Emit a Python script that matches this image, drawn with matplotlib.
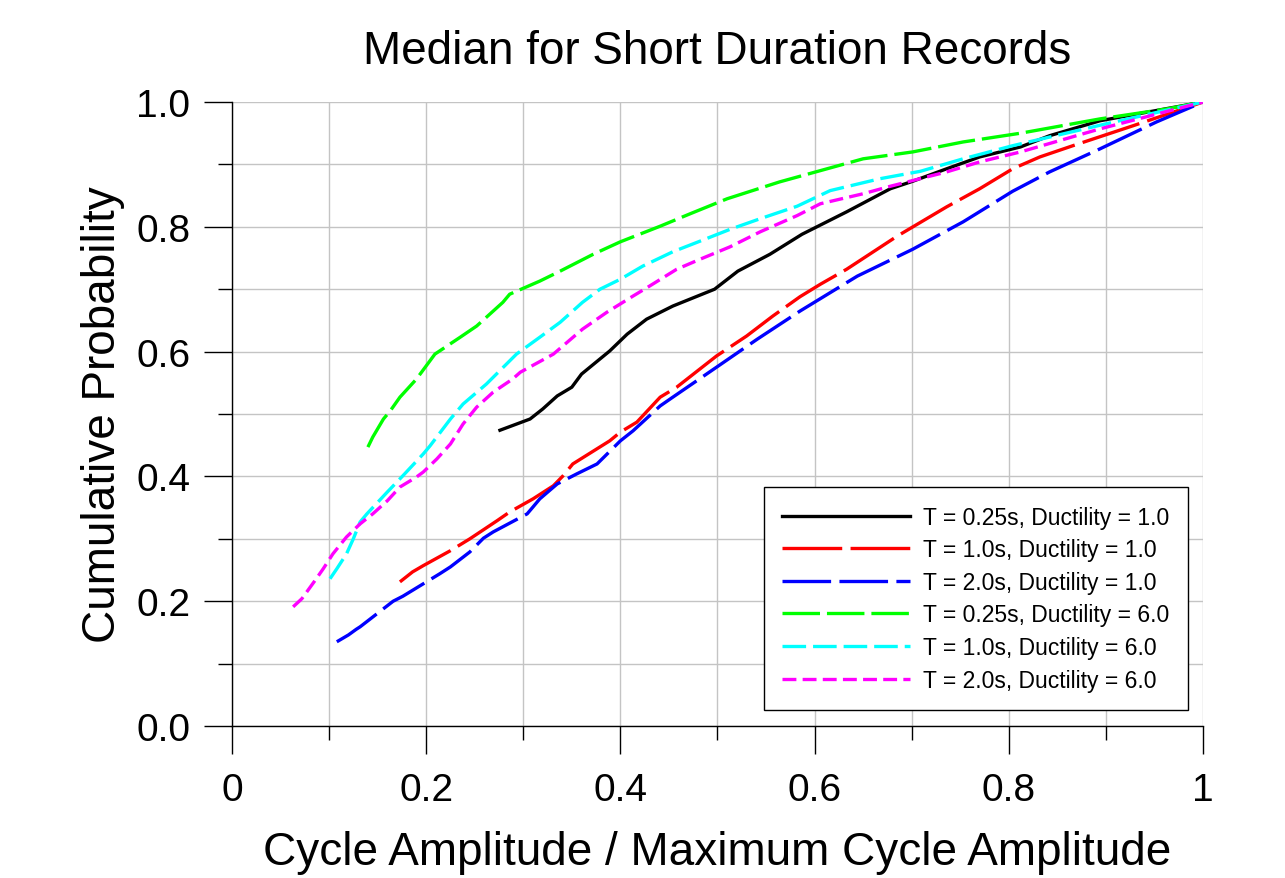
import matplotlib
matplotlib.use("Agg")
from matplotlib import pyplot as plt
from matplotlib.ticker import FixedLocator
import numpy as np

plt.rcParams['font.family'] = ['Liberation Sans', 'DejaVu Sans']
plt.rcParams['lines.scale_dashes'] = False

# T = 0.25s, Ductility = 1.0
x_t025_d1 = [0.276, 0.307, 0.320, 0.335, 0.350, 0.360, 0.389, 0.407, 0.427, 0.454, 0.497, 0.521,
             0.554, 0.587, 0.633, 0.678, 0.701, 0.736, 0.770, 0.812, 0.842, 0.894, 1.0]
y_t025_d1 = [0.474, 0.492, 0.508, 0.529, 0.543, 0.564, 0.601, 0.628, 0.652, 0.673, 0.700, 0.729,
             0.756, 0.788, 0.824, 0.861, 0.873, 0.893, 0.912, 0.928, 0.946, 0.970, 1.0]

# T = 1.0s, Ductility = 1.0
x_t10_d1 = [0.173, 0.186, 0.197, 0.225, 0.245, 0.273, 0.286, 0.310, 0.331, 0.341, 0.351, 0.389,
            0.400, 0.417, 0.441, 0.458, 0.499, 0.530, 0.557, 0.585, 0.606, 0.633, 0.685, 0.736,
            0.770, 0.804, 0.832, 0.866, 0.928, 1.0]
y_t10_d1 = [0.231, 0.247, 0.257, 0.281, 0.300, 0.329, 0.343, 0.364, 0.385, 0.401, 0.420, 0.457,
            0.471, 0.487, 0.527, 0.543, 0.593, 0.625, 0.657, 0.688, 0.708, 0.732, 0.785, 0.832,
            0.861, 0.893, 0.912, 0.930, 0.962, 1.0]

# T = 2.0s, Ductility = 1.0
x_t20_d1 = [0.108, 0.120, 0.128, 0.132, 0.166, 0.176, 0.214, 0.225, 0.245, 0.259, 0.269, 0.304,
            0.310, 0.317, 0.335, 0.355, 0.376, 0.400, 0.413, 0.441, 0.454, 0.499, 0.541, 0.585,
            0.644, 0.701, 0.753, 0.804, 0.842, 0.894, 0.952, 1.0]
y_t20_d1 = [0.135, 0.146, 0.155, 0.159, 0.200, 0.208, 0.244, 0.255, 0.279, 0.301, 0.311, 0.340,
            0.351, 0.364, 0.388, 0.404, 0.420, 0.457, 0.473, 0.513, 0.527, 0.575, 0.620, 0.665,
            0.721, 0.764, 0.808, 0.857, 0.888, 0.925, 0.968, 1.0]

# T = 0.25s, Ductility = 6.0
x_t025_d6 = [0.140, 0.145, 0.156, 0.163, 0.173, 0.190, 0.209, 0.235, 0.252, 0.279, 0.286, 0.317,
             0.338, 0.372, 0.400, 0.441, 0.472, 0.510, 0.564, 0.650, 0.701, 0.753, 0.812, 0.894,
             0.963, 1.0]
y_t025_d6 = [0.447, 0.463, 0.492, 0.505, 0.527, 0.556, 0.596, 0.623, 0.641, 0.679, 0.692, 0.713,
             0.729, 0.756, 0.776, 0.801, 0.821, 0.845, 0.872, 0.909, 0.920, 0.936, 0.950, 0.973,
             0.989, 1.0]

# T = 1.0s, Ductility = 6.0
x_t10_d6 = [0.101, 0.108, 0.118, 0.125, 0.132, 0.139, 0.160, 0.176, 0.197, 0.204, 0.225, 0.238,
            0.262, 0.293, 0.317, 0.338, 0.361, 0.379, 0.400, 0.423, 0.454, 0.482, 0.513, 0.544,
            0.582, 0.616, 0.667, 0.709, 0.753, 0.804, 0.900, 1.0]
y_t10_d6 = [0.236, 0.252, 0.276, 0.300, 0.327, 0.340, 0.375, 0.401, 0.436, 0.449, 0.492, 0.516,
            0.548, 0.596, 0.623, 0.647, 0.679, 0.700, 0.716, 0.737, 0.760, 0.777, 0.796, 0.813,
            0.833, 0.858, 0.877, 0.889, 0.909, 0.930, 0.965, 1.0]

# T = 2.0s, Ductility = 6.0
x_t20_d6 = [0.063, 0.072, 0.085, 0.094, 0.104, 0.118, 0.132, 0.145, 0.160, 0.173, 0.190, 0.197,
            0.211, 0.225, 0.238, 0.252, 0.269, 0.289, 0.297, 0.331, 0.361, 0.386, 0.413, 0.430,
            0.458, 0.482, 0.513, 0.544, 0.582, 0.606, 0.650, 0.678, 0.736, 0.770, 0.812, 0.894,
            1.0]
y_t20_d6 = [0.191, 0.204, 0.232, 0.252, 0.276, 0.303, 0.324, 0.340, 0.361, 0.383, 0.399, 0.407,
            0.428, 0.452, 0.484, 0.511, 0.535, 0.556, 0.567, 0.596, 0.636, 0.663, 0.689, 0.705,
            0.732, 0.748, 0.768, 0.792, 0.818, 0.837, 0.853, 0.865, 0.888, 0.904, 0.920, 0.957,
            1.0]

x_major = [0, 0.2, 0.4, 0.6, 0.8, 1.0]
x_labels = ['0', '0.2', '0.4', '0.6', '0.8', '1']
y_major = [0, 0.2, 0.4, 0.6, 0.8, 1.0]
y_labels = ['0.0', '0.2', '0.4', '0.6', '0.8', '1.0']
minor = [0.1, 0.3, 0.5, 0.7, 0.9]

fig = plt.figure(figsize=(12.85, 8.79), dpi=100)
ax = fig.add_axes([0.1805, 0.1729, 0.7557, 0.7099])

lw = 2.4
ax.plot(x_t025_d1, y_t025_d1, color='black', lw=lw, label='T = 0.25s, Ductility = 1.0')
ax.plot(x_t10_d1, y_t10_d1, color='#ff0000', lw=lw, dashes=(43, 6), label='T = 1.0s, Ductility = 1.0')
ax.plot(x_t20_d1, y_t20_d1, color='#0000ff', lw=lw, dashes=(35, 6), label='T = 2.0s, Ductility = 1.0')
ax.plot(x_t025_d6, y_t025_d6, color='#00ff00', lw=lw, dashes=(27, 5), label='T = 0.25s, Ductility = 6.0')
ax.plot(x_t10_d6, y_t10_d6, color='#00ffff', lw=lw, dashes=(17, 5), label='T = 1.0s, Ductility = 6.0')
ax.plot(x_t20_d6, y_t20_d6, color='#ff00ff', lw=lw, dashes=(10, 4.5), label='T = 2.0s, Ductility = 6.0')

ax.set_xlim(0, 1)
ax.set_ylim(0, 1)
ax.xaxis.set_major_locator(FixedLocator(x_major))
ax.xaxis.set_minor_locator(FixedLocator(minor))
ax.yaxis.set_major_locator(FixedLocator(y_major))
ax.yaxis.set_minor_locator(FixedLocator(minor))
ax.set_xticklabels(x_labels)
ax.set_yticklabels(y_labels)

ax.grid(True, which='both', color='#c4c4c4', lw=1.0)
ax.set_axisbelow(True)
for s in ['top', 'right']:
    ax.spines[s].set_visible(False)
ax.spines['left'].set_linewidth(1.0)
ax.spines['bottom'].set_linewidth(1.0)
ax.tick_params(which='major', length=20, width=1.0, labelsize=28)
ax.tick_params(which='minor', length=10, width=1.0)
ax.tick_params(axis='x', which='major', pad=13)
ax.tick_params(axis='y', which='major', pad=10)

ax.set_title('Median for Short Duration Records', fontsize=33, pad=28)
ax.set_xlabel('Cycle Amplitude / Maximum Cycle Amplitude', fontsize=33, labelpad=16)
ax.set_ylabel('Cumulative Probability', fontsize=33, labelpad=8)

leg = ax.legend(loc='lower right', bbox_to_anchor=(0.9845, 0.0256), borderaxespad=0,
                fontsize=16.5, frameon=True, fancybox=False, edgecolor='black', framealpha=1,
                handlelength=5.6, labelspacing=0.42, borderpad=0.8, handletextpad=0.57)
leg.get_frame().set_linewidth(1.0)

fig.savefig('out.png', dpi=100)
